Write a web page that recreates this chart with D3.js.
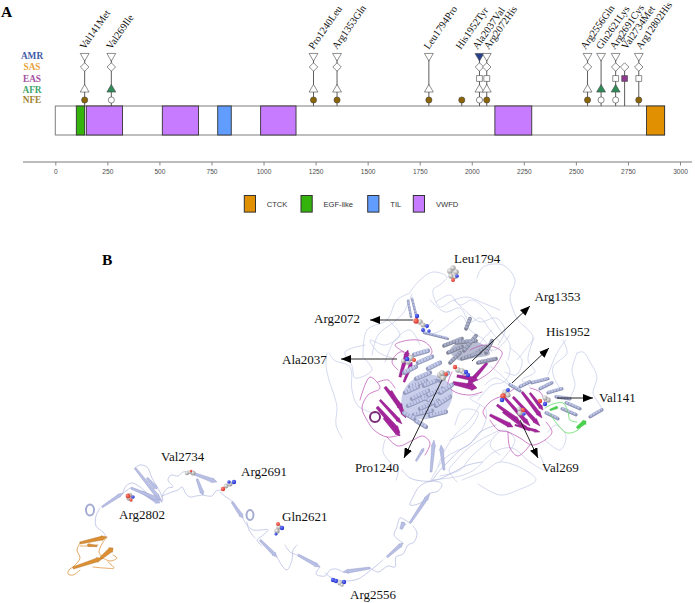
<!DOCTYPE html>
<html>
<head>
<meta charset="utf-8">
<script src="https://cdn.jsdelivr.net/npm/d3@7"></script>
<style>
  html, body { margin: 0; padding: 0; background: #fff; }
  svg { display: block; }
  .serif { font-family: "Liberation Serif", serif; }
  .sans { font-family: "Liberation Sans", sans-serif; }
</style>
</head>
<body>
<div id="chart"></div>
<script>
// ---- Panel A data ----
var variantNames = ["Val141Met", "Val269Ile", "Pro1240Leu", "Arg1353Gln", "Leu1794Pro", "His1952Tyr", "Ala2037Val",
    "Arg2072His", "Arg2556Gln", "Gln2621Lys", "Arg2691Cys", "Val2734Met", "Arg12802His"];
var variantPos = [141, 269, 1240, 1353, 1794, 1952, 2037, 2072, 2556, 2621, 2691, 2734, 2802];

// 0 = not seen, 1 = seen (open marker), 2 = highest population (filled marker)
var populations = ["AMR", "SAS", "EAS", "AFR", "NFE"];
var amrState = [1, 1, 1, 1, 1, 0, 2, 1, 1, 1, 1, 0, 1];
var sasState = [1, 1, 1, 1, 0, 0, 1, 1, 1, 0, 1, 1, 1];
var easState = [0, 0, 0, 0, 0, 0, 1, 1, 0, 0, 1, 2, 1];
var afrState = [1, 2, 1, 1, 1, 0, 1, 1, 1, 2, 2, 0, 0];
var nfeState = [2, 1, 2, 2, 2, 2, 1, 2, 2, 1, 1, 0, 2];

var domainNames = ["EGF-like", "VWFD", "VWFD", "TIL", "VWFD", "VWFD", "CTCK"];
var domainStart = [101, 149, 514, 780, 986, 2111, 2839];
var domainEnd = [141, 323, 688, 845, 1156, 2288, 2926];
var proteinLength = 2926;
var axisTicks = [0, 250, 500, 750, 1000, 1250, 1500, 1750, 2000, 2250, 2500, 2750, 3000];
var legendNames = ["CTCK", "EGF-like", "TIL", "VWFD"];

// ---- Panel B drawing data (traced outline of the structure, image pixels) ----
var tailLoops = [
    [[106, 537], [103, 532], [96, 526], [96, 516], [100, 508]],
    [[123, 493], [126, 486], [132, 483], [140, 487], [147, 493]],
    [[135, 468], [140, 465], [147, 467], [152, 478], [160, 492], [163, 500]],
    [[130, 488], [122, 494]],
    [[162, 502], [163, 494], [168, 488], [173, 487], [168, 480], [171, 475], [178, 476], [183, 472], [190, 472]],
    [[162, 496], [172, 492], [178, 490], [182, 487], [186, 494], [190, 497], [196, 496], [203, 495]],
    [[203, 495], [212, 496], [216, 491], [222, 490]],
    [[220, 492], [226, 497], [233, 502], [238, 510]],
    [[243, 518], [246, 524], [253, 530], [260, 530], [268, 530], [262, 536], [257, 540], [262, 546]],
    [[247, 522], [249, 530], [255, 538]],
    [[277, 557], [283, 567], [287, 570], [292, 560], [293, 550], [297, 545]],
    [[285, 545], [290, 552], [297, 555]],
    [[320, 567], [316, 574], [325, 576], [330, 570], [336, 569], [343, 572]],
    [[325, 573], [332, 578], [345, 581], [358, 579], [367, 573], [376, 566], [383, 560]],
    [[370, 568], [378, 572], [388, 566], [395, 567], [396, 557], [403, 554], [408, 545], [414, 542], [417, 533], [413, 526]],
    [[403, 543], [394, 535], [397, 527], [400, 518], [405, 520], [410, 523]],
    [[430, 493], [438, 491], [442, 484], [432, 481], [420, 486], [413, 497], [410, 505], [418, 504], [425, 500]],
    [[402, 470], [410, 478], [422, 481], [432, 481], [442, 478], [452, 473], [468, 465], [482, 462]],
    [[432, 481], [440, 470], [448, 462], [460, 450], [470, 444], [480, 432], [496, 425]]
];
var tailStrands = [
    [[102, 507], [123, 493], 3.5], [[142, 492], [160, 503], 5], [[147, 478], [157, 489], 4],
    [[135, 468], [162, 502], 4], [[131, 488], [160, 500], 4], [[192, 473], [217, 482], 4.5],
    [[197, 479], [203, 495], 4], [[232, 502], [243, 518], 4], [[260, 540], [277, 557], 4],
    [[298, 555], [320, 567], 4], [[370, 568], [343, 572], 4], [[387, 557], [403, 543], 4],
    [[410, 523], [430, 493], 4], [[401, 529], [404, 522], 5], [[431, 472], [434, 440], 4],
    [[444, 470], [441, 445], 4], [[416, 461], [424, 448], 3]
];
var tailHelix = [[90, 510, 4, 5.5], [250, 515, 3.5, 5], [375, 417, 5, 5]];

var orangeLoops = [
    [[80, 543], [77, 550], [80, 558], [74, 566], [69, 570], [68, 574], [73, 575], [80, 570]],
    [[93, 567], [104, 568], [114, 568], [108, 562]],
    [[113, 555], [117, 558], [110, 561], [103, 558]],
    [[107, 537], [102, 544], [99, 552], [102, 557]],
    [[80, 546], [90, 546], [98, 545]]
];
var orangeStrands = [
    [[80, 543], [107, 537], 4.5], [[73, 568], [103, 558], 4.5], [[101, 558], [113, 548], 5.5], [[97, 546], [87, 545], 3]
];

var tangleLoops = [
    [[410, 292], [420, 280], [433, 272], [447, 277], [441, 284], [433, 290], [436, 302], [440, 307], [454, 300], [467, 297], [483, 303], [500, 310]],
    [[477, 278], [483, 267], [503, 265], [515, 280], [510, 297], [514, 312], [518, 320], [533, 337], [525, 350], [517, 360]],
    [[327, 353], [326, 365], [329, 380], [334, 395], [337, 407], [336, 425], [342, 438]],
    [[329, 353], [334, 360], [350, 367], [352, 390], [358, 406], [376, 414]],
    [[363, 357], [367, 330], [387, 320], [397, 300], [410, 293]],
    [[372, 355], [378, 335], [394, 322], [404, 312], [412, 294]],
    [[363, 357], [372, 370], [355, 378], [352, 366], [345, 352], [365, 345]],
    [[436, 302], [450, 295], [460, 305], [472, 300], [486, 310], [500, 330], [510, 345], [508, 360]],
    [[454, 300], [470, 315], [480, 322], [496, 318], [505, 330], [498, 345]],
    [[563, 340], [567, 353], [553, 367], [555, 380], [562, 390]],
    [[577, 353], [583, 352], [590, 362], [597, 377], [593, 393], [598, 402], [603, 410]],
    [[577, 353], [572, 370], [575, 385], [570, 398]],
    [[548, 375], [556, 355], [562, 345], [566, 340]],
    [[430, 482], [445, 458], [468, 445], [482, 430], [486, 410], [470, 398], [478, 395]],
    [[432, 480], [460, 476], [474, 470], [494, 452], [512, 448], [530, 462], [545, 470], [540, 455]],
    [[462, 480], [486, 470], [500, 462], [525, 470], [536, 480], [518, 490], [500, 495], [478, 484]],
    [[500, 430], [480, 440], [466, 450], [455, 462], [449, 470], [457, 482]],
    [[478, 400], [492, 385], [504, 382], [510, 372], [506, 362]],
    [[433, 320], [424, 334], [438, 332], [452, 322], [462, 316], [470, 330], [484, 340], [492, 352]],
    [[385, 440], [383, 452], [390, 462], [398, 470], [396, 480]],
    [[388, 320], [400, 335], [385, 345], [370, 340], [378, 352], [392, 358]],
    [[430, 300], [445, 312], [460, 308], [470, 322], [480, 318], [490, 330], [500, 342]],
    [[534, 338], [528, 360], [535, 372], [522, 380], [530, 386]],
    [[485, 385], [495, 378], [510, 385], [500, 374], [490, 366]],
    [[480, 405], [470, 420], [455, 435], [445, 450], [438, 466]],
    [[490, 440], [470, 458], [460, 470], [440, 476]],
    [[545, 440], [560, 450], [566, 436], [556, 425], [548, 432]],
    [[510, 348], [522, 360], [516, 375], [505, 372]],
    [[492, 330], [480, 345], [495, 350], [510, 335]],
    [[420, 345], [410, 330], [395, 340], [385, 362]],
    [[455, 425], [462, 410], [478, 412], [470, 428], [450, 440]],
    [[500, 462], [515, 440], [503, 430], [490, 445], [500, 455]]
];
var magentaLoops = [
    [[360, 400], [370, 377], [380, 388], [368, 395], [362, 408], [367, 420], [374, 430], [387, 437], [400, 435]],
    [[387, 437], [398, 446], [413, 440], [423, 436], [430, 443], [425, 455]],
    [[378, 382], [388, 380], [395, 388]],
    [[404, 352], [395, 345], [410, 340], [425, 342], [432, 352], [422, 362]],
    [[398, 370], [392, 362], [400, 352], [410, 354]],
    [[470, 350], [485, 345], [502, 352], [498, 362], [490, 372], [478, 380]],
    [[452, 372], [448, 385], [455, 392], [470, 395], [482, 392]],
    [[486, 418], [483, 412], [490, 402], [497, 398], [505, 395], [515, 388]],
    [[490, 420], [498, 430], [508, 432], [520, 438], [532, 445], [545, 440], [552, 432], [546, 422]],
    [[508, 432], [510, 448], [518, 456], [530, 445]],
    [[530, 388], [540, 392], [545, 402]]
];
var magentaStrands = [
    [[385, 387], [403, 410], 5.5], [[377, 407], [400, 433], 5.5], [[384, 418], [400, 436], 4.5], [[391, 391], [406, 418], 4.5],
    [[380, 400], [402, 424], 4], [[400, 377], [408, 350], 5], [[404, 382], [412, 362], 4], [[453, 383], [477, 388], 6.5],
    [[487, 363], [467, 386], 5], [[457, 376], [478, 380], 5],
    [[497, 405], [520, 422], 4.5], [[490, 415], [513, 427], 5], [[505, 398], [530, 426], 4.5], [[513, 397], [540, 426], 4.5],
    [[522, 392], [542, 418], 4.5], [[530, 393], [543, 410], 4], [[503, 412], [530, 431], 4], [[515, 425], [540, 432], 3]
];
var greenLoops = [
    [[545, 408], [553, 404], [563, 403], [568, 412], [570, 420], [577, 422]],
    [[583, 423], [578, 430], [567, 433], [558, 425], [550, 414]]
];
var greenStrands = [[[577, 428], [586, 421], 5], [[550, 410], [558, 407], 3]];

// lavender core, helices and sheets packed round the buried residues
var coreSegments = [
    [405, 392, 418, 386], [412, 398, 428, 390], [408, 405, 424, 398], [420, 408, 438, 400], [414, 414, 432, 410],
    [428, 395, 442, 388], [436, 405, 450, 396], [430, 415, 446, 411], [440, 392, 452, 384], [424, 385, 436, 380],
    [416, 378, 430, 372], [440, 380, 448, 372], [404, 372, 416, 366], [418, 362, 432, 356], [428, 368, 440, 362],
    [414, 354, 428, 350], [416, 420, 426, 426], [404, 412, 414, 418], [422, 396, 434, 402], [410, 386, 426, 380]
];
var upperSegments = [
    [448, 352, 462, 346], [456, 342, 476, 340], [450, 362, 460, 352], [472, 355, 486, 346], [478, 362, 496, 358],
    [464, 350, 476, 335], [486, 352, 492, 340], [444, 345, 462, 338], [466, 328, 470, 318], [462, 358, 480, 352]
];
var rightSegments = [
    [532, 382, 548, 378], [540, 388, 552, 382], [548, 392, 562, 388], [556, 396, 570, 398], [520, 386, 530, 381],
    [562, 408, 576, 414], [566, 402, 580, 408], [590, 416, 602, 409], [546, 412, 558, 418], [510, 384, 520, 390]
];
// flat ribbons near Arg2072, thin and pale
var sheetSegments = [
    [417, 318, 412, 298], [411, 316, 408, 300], [424, 332, 448, 338]
];
var coreBlob = [[404, 390], [416, 378], [438, 376], [452, 388], [448, 408], [432, 418], [414, 418], [402, 406]];
var upperBlob = [[450, 350], [464, 340], [482, 344], [490, 354], [474, 358], [458, 360]];

// sphere models of the variant residues: x, y, radius, element
var atoms = [
    [450, 271, 2.6, "c"], [453, 268, 2.4, "c"], [456, 272, 2.5, "c"], [451, 276, 2.4, "c"], [455, 277, 2, "c"], [453, 280, 1.8, "o"], [457, 276, 1.7, "n"],
    [420, 322, 2.5, "c"], [423, 325, 2.3, "c"], [417, 316, 2, "n"], [416, 321, 2.4, "o"], [427, 326, 1.8, "n"], [423, 330, 1.8, "n"], [429, 331, 1.6, "n"],
    [408, 362, 2.4, "c"], [411, 358, 2.8, "c"], [407, 359, 2.1, "n"], [414, 360, 1.9, "o"], [403, 361, 2, "c"],
    [440, 375, 2.8, "c"], [443, 378, 2.6, "c"], [442, 373, 2.6, "c"], [446, 374, 1.8, "o"],
    [458, 370, 2.5, "c"], [462, 371, 2.5, "c"], [455, 367, 2, "o"], [464, 373, 2, "c"], [466, 372, 2, "n"], [468, 375, 2, "n"],
    [505, 392, 2.4, "c"], [508, 395, 2.3, "c"], [503, 396, 2.5, "o"], [508, 390, 1.8, "n"], [502, 400, 2.1, "n"],
    [520, 413, 2.4, "c"], [519, 409, 2, "c"], [523, 410, 2, "o"], [524, 414, 1.6, "n"],
    [548, 400, 2.4, "c"], [545, 398, 2.3, "c"], [540, 401, 2, "o"], [545, 404, 2, "n"],
    [187, 473, 2, "c"], [193, 473, 2.3, "c"], [190, 472, 1.9, "c"], [191, 471, 1.2, "o"],
    [226, 486, 2.2, "c"], [230, 484, 2.3, "c"], [223, 489, 2, "o"], [234, 482, 2, "n"], [229, 482, 1.6, "n"],
    [129, 498, 2.4, "c"], [130, 495, 2, "c"], [128, 496, 2.2, "o"], [133, 497, 1.6, "n"], [131, 500, 1.5, "o"],
    [277, 531, 2.4, "c"], [279, 527, 2.3, "c"], [278, 524, 1.8, "o"], [282, 528, 2, "n"], [276, 534, 1.4, "n"],
    [333, 580, 2, "n"], [336, 581, 2, "n"], [340, 583, 2.3, "c"], [344, 582, 2, "n"], [342, 585, 1.6, "c"]
];

var structureLabels = ["Leu1794", "Arg1353", "Arg2072", "His1952", "Ala2037", "Val141", "Pro1240", "Val269", "Val2734", "Arg2691", "Arg2802", "Gln2621", "Arg2556"];
var structureLabelX = [454, 534.5, 314, 546, 282, 599, 355, 542, 161, 241, 119, 282, 350];
var structureLabelY = [263, 301, 323, 336, 364, 402, 472, 472, 461, 476, 519, 521, 599];
var arrows = [
    [413, 320, 370, 320], [397, 359, 341, 359], [472, 361, 530, 306], [512, 383, 549, 348],
    [557, 398, 593, 398], [520, 420, 538, 458], [442, 380, 404, 458]
];

// ---- Layout and colours ----
var svgWidth = 695;
var svgHeight = 603;
var popY = [56, 67, 78.5, 89.5, 100];
var popColor = { AMR: "#27408b", SAS: "#e8a020", EAS: "#8e3a8e", AFR: "#2e8b57", NFE: "#8b6508" };
var popLabelColor = { AMR: "#3f5aa6", SAS: "#e6a33a", EAS: "#a3509f", AFR: "#3ea56c", NFE: "#a08233" };
var domainColor = { "CTCK": "#e09000", "EGF-like": "#33b30c", "TIL": "#619cff", "VWFD": "#c77cff" };
// small nudges so the rotated names do not collide
var labelDx = [0, 0, 0, 0, 0, -1, -2, 2, -2, 0, -1, 2, 2];
var lavender = "#b8bfe4";
var magenta = "#a6249c";

var svg = d3.select("#chart").append("svg")
    .attr("width", svgWidth)
    .attr("height", svgHeight)
    .attr("viewBox", "0 0 695 603");

var xScale = d3.scaleLinear().domain([0, 3000]).range([55.3, 680]);

var stateBy = [amrState, sasState, easState, afrState, nfeState];

// Panel letters
svg.append("text").attr("class", "serif").attr("x", 1).attr("y", 17)
    .style("font-size", "15.5px").style("font-weight", "bold").text("A");
svg.append("text").attr("class", "serif").attr("x", 102).attr("y", 265)
    .style("font-size", "15.5px").style("font-weight", "bold").text("B");

// Population labels
svg.selectAll(".pop")
    .data(populations)
    .enter()
    .append("text")
    .attr("class", "pop serif")
    .attr("x", 32)
    .attr("y", function (d, i) { return popY[i] + 3.2; })
    .attr("text-anchor", "middle")
    .style("font-size", "9.3px")
    .style("font-weight", "bold")
    .style("fill", function (d) { return popLabelColor[d]; })
    .text(function (d) { return d; });

// Protein backbone and domains
svg.append("rect")
    .attr("x", xScale(0)).attr("y", 106)
    .attr("width", xScale(proteinLength) - xScale(0)).attr("height", 29)
    .attr("fill", "#fff").attr("stroke", "#7f7f7f").attr("stroke-width", 1);

svg.selectAll(".domain-box")
    .data(domainNames)
    .enter()
    .append("rect")
    .attr("class", "domain-box")
    .attr("x", function (d, i) { return xScale(domainStart[i]); })
    .attr("y", 106)
    .attr("width", function (d, i) { return xScale(domainEnd[i]) - xScale(domainStart[i]); })
    .attr("height", 29)
    .attr("fill", function (d) { return domainColor[d]; })
    .attr("stroke", "#333")
    .attr("stroke-width", 0.9);

// Lollipop stems and markers
var symbolFor = {
    AMR: d3.symbol().type(d3.symbolTriangle).size(34)(),
    SAS: d3.symbol().type(d3.symbolSquare).size(36)(),
    EAS: d3.symbol().type(d3.symbolSquare).size(34)(),
    AFR: d3.symbol().type(d3.symbolTriangle).size(34)(),
    NFE: d3.symbol().type(d3.symbolCircle).size(30)()
};
var rotateFor = { AMR: 180, SAS: 45, EAS: 0, AFR: 0, NFE: 0 };

variantPos.forEach(function (pos, v) {
    var top = 4;
    populations.forEach(function (p, i) {
        if (stateBy[i][v] > 0 && i < top) { top = i; }
    });
    svg.append("line")
        .attr("x1", xScale(pos)).attr("x2", xScale(pos))
        .attr("y1", popY[top]).attr("y2", 106)
        .attr("stroke", "#333").attr("stroke-width", 0.8);

    populations.forEach(function (p, i) {
        var state = stateBy[i][v];
        if (state === 0) { return; }
        svg.append("path")
            .attr("d", symbolFor[p])
            .attr("transform", "translate(" + xScale(pos) + "," + popY[i] + ") rotate(" + rotateFor[p] + ")")
            .attr("fill", state === 2 ? popColor[p] : "#fff")
            .attr("stroke", "#444")
            .attr("stroke-width", 0.6);
    });

    svg.append("text")
        .attr("class", "serif")
        .attr("transform", "translate(" + (xScale(pos) + labelDx[v]) + ",50) rotate(-55)")
        .style("font-size", "10.2px")
        .style("fill", "#111")
        .text(variantNames[v]);
});

// Position axis
var bottomAxis = d3.axisBottom(xScale).tickValues(axisTicks).tickSize(3.5).tickPadding(3.5).tickFormat(d3.format("d"));
var axisGroup = svg.append("g")
    .attr("transform", "translate(0,162)")
    .call(bottomAxis);
axisGroup.select(".domain").remove();
axisGroup.selectAll("line").attr("stroke", "#555").attr("stroke-width", 0.7);
axisGroup.selectAll("text")
    .attr("class", "sans")
    .style("font-size", "6.6px")
    .style("font-family", "'Liberation Sans', sans-serif")
    .style("fill", "#4d4d4d");
axisGroup.append("line")
    .attr("x1", xScale(-155)).attr("x2", xScale(3058))
    .attr("stroke", "#7a7a7a").attr("stroke-width", 1.2);

// Domain legend
var legendSwatchX = [244.3, 301, 367.7, 413.3];
var legendTextX = [266.7, 323.5, 390.3, 436];
svg.selectAll(".legend-box")
    .data(legendNames)
    .enter()
    .append("rect")
    .attr("class", "legend-box")
    .attr("x", function (d, i) { return legendSwatchX[i]; })
    .attr("y", 195.5)
    .attr("width", 11.2)
    .attr("height", 16.6)
    .attr("fill", function (d) { return domainColor[d]; })
    .attr("stroke", "#333")
    .attr("stroke-width", 1);
svg.selectAll(".legend-text")
    .data(legendNames)
    .enter()
    .append("text")
    .attr("class", "legend-text sans")
    .attr("x", function (d, i) { return legendTextX[i]; })
    .attr("y", 206.5)
    .style("font-size", "7.6px")
    .style("fill", "#333")
    .text(function (d) { return d; });

// ---- Panel B: the structure ----
var defs = svg.append("defs");
var atomFill = { c: ["#f4f4f4", "#8f8f8f"], o: ["#ff8a7a", "#d42a20"], n: ["#6f7dff", "#1c28c8"] };
Object.keys(atomFill).forEach(function (k) {
    var grad = defs.append("radialGradient").attr("id", "atom-" + k).attr("cx", "35%").attr("cy", "35%").attr("r", "70%");
    grad.append("stop").attr("offset", "0%").attr("stop-color", atomFill[k][0]);
    grad.append("stop").attr("offset", "100%").attr("stop-color", atomFill[k][1]);
});

var loopLine = d3.line().curve(d3.curveCatmullRom.alpha(0.5));
var blobLine = d3.line().curve(d3.curveCatmullRomClosed.alpha(0.5));

function drawLoops(rows, colour, width) {
    svg.append("g").selectAll("path")
        .data(rows)
        .enter()
        .append("path")
        .attr("d", function (d) { return loopLine(d); })
        .attr("fill", "none")
        .attr("stroke", colour)
        .attr("stroke-width", width)
        .attr("stroke-linecap", "round");
}

// beta strand as a flat arrow from one point to another
function strandPath(d) {
    var a = d[0], b = d[1], w = d[2] / 2;
    var dx = b[0] - a[0], dy = b[1] - a[1];
    var len = Math.sqrt(dx * dx + dy * dy);
    var ux = dx / len, uy = dy / len, nx = -uy, ny = ux;
    var neck = len * 0.8;
    var p = d3.path();
    p.moveTo(a[0] + nx * w * 0.5, a[1] + ny * w * 0.5);
    p.lineTo(a[0] + ux * neck + nx * w * 0.85, a[1] + uy * neck + ny * w * 0.85);
    p.lineTo(a[0] + ux * neck + nx * w * 1.1, a[1] + uy * neck + ny * w * 1.1);
    p.lineTo(b[0], b[1]);
    p.lineTo(a[0] + ux * neck - nx * w * 1.1, a[1] + uy * neck - ny * w * 1.1);
    p.lineTo(a[0] + ux * neck - nx * w * 0.85, a[1] + uy * neck - ny * w * 0.85);
    p.lineTo(a[0] - nx * w * 0.5, a[1] - ny * w * 0.5);
    p.closePath();
    return p.toString();
}

function drawStrands(rows, colour, edge) {
    svg.append("g").selectAll("path")
        .data(rows)
        .enter()
        .append("path")
        .attr("d", strandPath)
        .attr("fill", colour)
        .attr("stroke", edge)
        .attr("stroke-width", 0.4);
}

function drawBlob(points, colour) {
    svg.append("path")
        .attr("d", blobLine(points))
        .attr("fill", colour)
        .attr("stroke", "none");
}

function drawSegments(rows, width, under, over) {
    var g = svg.append("g");
    // dark underside first, then the lit ribbon on top, broken up like helix turns
    g.selectAll(".under").data(rows).enter().append("line").attr("class", "under")
        .attr("x1", function (d) { return d[0]; }).attr("y1", function (d) { return d[1] + 0.8; })
        .attr("x2", function (d) { return d[2]; }).attr("y2", function (d) { return d[3] + 0.8; })
        .attr("stroke", under).attr("stroke-width", width).attr("stroke-linecap", "round");
    g.selectAll(".over").data(rows).enter().append("line").attr("class", "over")
        .attr("x1", function (d) { return d[0]; }).attr("y1", function (d) { return d[1]; })
        .attr("x2", function (d) { return d[2]; }).attr("y2", function (d) { return d[3]; })
        .attr("stroke", over).attr("stroke-width", width * 0.8).attr("stroke-dasharray", "2.4 0.7");
}

drawLoops(tangleLoops, "#c3c8e6", 0.7);
drawLoops(tailLoops, "#b9bfe2", 0.8);
drawStrands(tailStrands, lavender, "#8f96c4");
tailHelix.forEach(function (h) {
    svg.append("ellipse").attr("cx", h[0]).attr("cy", h[1]).attr("rx", h[2]).attr("ry", h[3])
        .attr("fill", "none").attr("stroke", h[0] === 375 ? "#7a2a78" : "#a5abd2").attr("stroke-width", 2);
});
drawBlob(coreBlob, "#c9cfea");
drawBlob(upperBlob, "#b9bdd2");
drawLoops(magentaLoops, "#b94bb0", 0.7);
drawStrands(magentaStrands, magenta, "#7f1a78");
drawSegments(coreSegments, 4.4, "#949bbd", "#c3c9ea");
drawSegments(upperSegments, 3.8, "#7f8499", "#a9aec9");
drawSegments(rightSegments, 3.2, "#8b92b4", "#bcc3e4");
drawSegments(sheetSegments, 2.4, "#8b92b4", "#b4bbe0");
drawLoops(greenLoops, "#62dc62", 0.8);
drawStrands(greenStrands, "#49d24c", "#3ab53d");
drawLoops(orangeLoops, "#e0a055", 0.9);
drawStrands(orangeStrands, "#dc8f32", "#a8661a");

// Variant residues
svg.append("g").selectAll("circle")
    .data(atoms)
    .enter()
    .append("circle")
    .attr("cx", function (d) { return d[0]; })
    .attr("cy", function (d) { return d[1]; })
    .attr("r", function (d) { return d[2] * 1.1; })
    .attr("fill", function (d) { return "url(#atom-" + d[3] + ")"; });

// Arrows from residues to names
svg.append("defs").append("marker")
    .attr("id", "head").attr("viewBox", "0 0 10 8").attr("refX", 10).attr("refY", 4)
    .attr("markerWidth", 10).attr("markerHeight", 8).attr("markerUnits", "userSpaceOnUse").attr("orient", "auto")
    .append("path").attr("d", "M0,0L10,4L0,8Z").attr("fill", "#000");
svg.append("g").selectAll("line")
    .data(arrows)
    .enter()
    .append("line")
    .attr("x1", function (d) { return d[0]; })
    .attr("y1", function (d) { return d[1]; })
    .attr("x2", function (d) { return d[2]; })
    .attr("y2", function (d) { return d[3]; })
    .attr("stroke", "#111")
    .attr("stroke-width", 0.9)
    .attr("marker-end", "url(#head)");

// Residue names
svg.selectAll(".residue")
    .data(structureLabels)
    .enter()
    .append("text")
    .attr("class", "residue serif")
    .attr("x", function (d, i) { return structureLabelX[i]; })
    .attr("y", function (d, i) { return structureLabelY[i]; })
    .style("font-size", "13px")
    .style("fill", "#111")
    .text(function (d) { return d; });
</script>
</body>
</html>
